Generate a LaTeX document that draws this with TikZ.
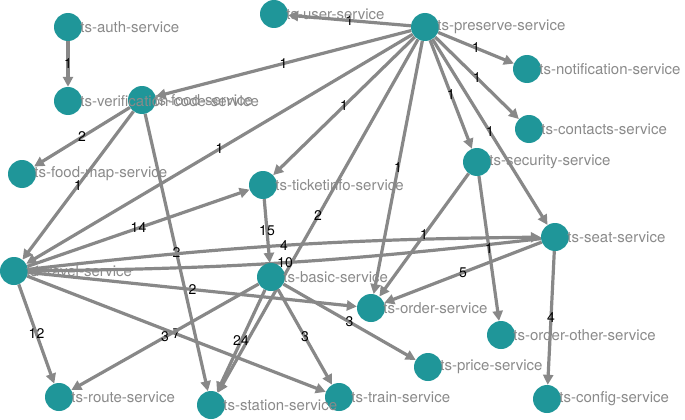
\documentclass[tikz,border=0pt]{standalone}
\usepackage{fontspec}
\setmainfont{TeX Gyre Heros}
\usetikzlibrary{positioning,arrows.meta,backgrounds}
\definecolor{svcteal}{RGB}{31,150,153}
\definecolor{linkgray}{RGB}{136,136,136}
\definecolor{namegray}{RGB}{138,138,138}
\tikzset{
  svc/.style={circle, fill=svcteal, minimum size=28pt, inner sep=0pt},
  svcname/.style={text=namegray, inner sep=0pt, font=\fontsize{15}{18}\selectfont},
  link/.style={draw=linkgray, line width=3.2pt, -{Triangle[length=10pt,width=10pt]}},
  calls/.style={font=\fontsize{14}{16}\selectfont, inner sep=0pt}
}
\begin{document}
\begin{tikzpicture}[x=1pt,y=-1pt]
  \useasboundingbox (0,0) rectangle (685,420);

  \node[svc] (auth) at (68,27) {};
  \node[svc] (food) at (142,100) {};
  \node[svc] (verification) at (68,101) {};
  \node[svc] (user) at (274,14) {};
  \node[svc] (preserve) at (425,27) {};
  \node[svc] (notification) at (527,69) {};
  \node[svc] (contacts) at (529,129) {};
  \node[svc] (security) at (477,162) {};
  \node[svc] (foodmap) at (22,174) {};
  \node[svc] (ticketinfo) at (263,185) {};
  \node[svc] (seat) at (555,237) {};
  \node[svc] (travel) at (14,271) {};
  \node[svc] (basic) at (271,277) {};
  \node[svc] (order) at (371,308) {};
  \node[svc] (orderother) at (501,335) {};
  \node[svc] (price) at (428,367) {};
  \node[svc] (route) at (59,397) {};
  \node[svc] (train) at (339,397) {};
  \node[svc] (station) at (211,405) {};
  \node[svc] (config) at (547,399) {};

  \node[svcname, right=-2pt of auth] {ts-auth-service};
  \node[svcname, right=-2pt of food] {ts-food-service};
  \node[svcname, right=-2pt of verification] {ts-verification-code-service};
  \node[svcname, right=-2pt of user] {ts-user-service};
  \node[svcname, right=-2pt of preserve] {ts-preserve-service};
  \node[svcname, right=-2pt of notification] {ts-notification-service};
  \node[svcname, right=-2pt of contacts] {ts-contacts-service};
  \node[svcname, right=-2pt of security] {ts-security-service};
  \node[svcname, right=-2pt of foodmap] {ts-food-map-service};
  \node[svcname, right=-2pt of ticketinfo] {ts-ticketinfo-service};
  \node[svcname, right=-2pt of seat] {ts-seat-service};
  \node[svcname, right=-2pt of travel] {ts-travel-service};
  \node[svcname, right=-2pt of basic] {ts-basic-service};
  \node[svcname, right=-2pt of order] {ts-order-service};
  \node[svcname, right=-2pt of orderother] {ts-order-other-service};
  \node[svcname, right=-2pt of price] {ts-price-service};
  \node[svcname, right=-2pt of route] {ts-route-service};
  \node[svcname, right=-2pt of train] {ts-train-service};
  \node[svcname, right=-2pt of station] {ts-station-service};
  \node[svcname, right=-2pt of config] {ts-config-service};

  \begin{scope}[on background layer]
    \draw[link] (auth) -- node[calls] {1} (verification);
    \draw[link] (preserve) -- node[calls] {1} (user);
    \draw[link] (preserve) -- node[calls] {1} (food);
    \draw[link] (preserve) -- node[calls] {1} (notification);
    \draw[link] (preserve) -- node[calls] {1} (contacts);
    \draw[link] (preserve) -- node[calls] {1} (security);
    \draw[link] (preserve) -- node[calls] {1} (seat);
    \draw[link] (preserve) -- node[calls] {1} (ticketinfo);
    \draw[link] (preserve) -- node[calls] {1} (travel);
    \draw[link] (preserve) -- node[calls] {1} (order);
    \draw[link] (preserve) -- node[calls] {2} (station);
    \draw[link] (food) -- node[calls] {2} (foodmap);
    \draw[link] (food) -- node[calls] {1} (travel);
    \draw[link] (food) -- node[calls] {2} (station);
    \draw[link] (travel) -- node[calls] {14} (ticketinfo);
    \draw[link] (ticketinfo) -- node[calls] {15} (basic);
    \draw[link] (travel) to[bend left=3] node[calls] {4} (seat);
    \draw[link] (seat) to[bend left=3] node[calls] {10} (travel);
    \draw[link] (travel) -- node[calls] {2} (order);
    \draw[link] (travel) -- node[calls] {12} (route);
    \draw[link] (travel) -- node[calls] {7} (train);
    \draw[link] (basic) -- node[calls] {3} (route);
    \draw[link] (basic) -- node[calls] {24} (station);
    \draw[link] (basic) -- node[calls] {3} (train);
    \draw[link] (basic) -- node[calls] {3} (price);
    \draw[link] (security) -- node[calls] {1} (order);
    \draw[link] (security) -- node[calls] {1} (orderother);
    \draw[link] (seat) -- node[calls] {5} (order);
    \draw[link] (seat) -- node[calls] {4} (config);
  \end{scope}
\end{tikzpicture}
\end{document}
